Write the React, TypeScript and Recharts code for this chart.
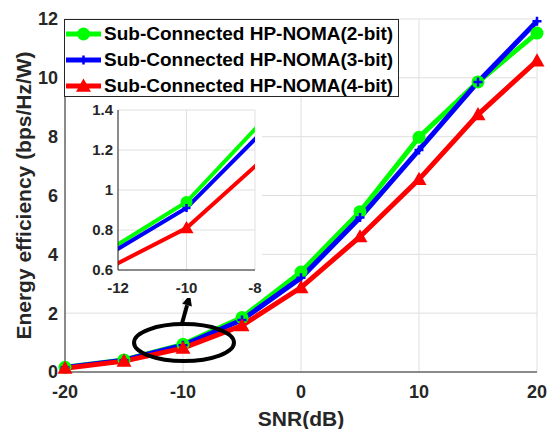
import React from "react";
import { LineChart, Line, XAxis, YAxis, CartesianGrid, Legend, ReferenceDot } from "recharts";

// SNR (dB) on x, energy efficiency (bps/Hz/W) on y
const snr = [-20, -15, -10, -5, 0, 5, 10, 15, 20];
const ee2bit = [0.16, 0.41, 0.94, 1.85, 3.4, 5.45, 7.98, 9.86, 11.52];
const ee3bit = [0.15, 0.4, 0.91, 1.77, 3.2, 5.25, 7.55, 9.86, 11.92];
const ee4bit = [0.13, 0.37, 0.81, 1.58, 2.87, 4.6, 6.55, 8.75, 10.58];

const xTicks = [-20, -10, 0, 10, 20];
const yTicks = [0, 2, 4, 6, 8, 10, 12];
const insetXTicks = [-12, -10, -8];
const insetYTicks = [0.6, 0.8, 1, 1.2, 1.4];

const names = [
  "Sub-Connected HP-NOMA(2-bit)",
  "Sub-Connected HP-NOMA(3-bit)",
  "Sub-Connected HP-NOMA(4-bit)",
];

const data = snr.map((x, i) => ({ snr: x, b2: ee2bit[i], b3: ee3bit[i], b4: ee4bit[i] }));

const GREEN = "#00ff00";
const BLUE = "#0000ff";
const RED = "#ff0000";
const AXIS = "#262626";
const GRID = "#dfdfdf";
const FONT = "'Liberation Sans', Arial, Helvetica, sans-serif";

const Circle = ({ cx, cy, r = 6.5 }: any) => <circle cx={cx} cy={cy} r={r} fill={GREEN} stroke="none" />;
const Plus = ({ cx, cy, s = 4.5 }: any) => (
  <path d={`M${cx - s},${cy}H${cx + s}M${cx},${cy - s}V${cy + s}`} stroke={BLUE} strokeWidth={2.5} fill="none" />
);
const Tri = ({ cx, cy, s = 7.5 }: any) => (
  <path d={`M${cx},${cy - s}L${cx + s},${cy + s * 0.75}L${cx - s},${cy + s * 0.75}Z`} fill={RED} stroke="none" />
);

const markers = [Circle, Plus, Tri];
const colors = [GREEN, BLUE, RED];

function dotFn(M: any, size?: number) {
  return (p: any) =>
    p.cx == null || p.cy == null ? <g key={`e-${p.index}`} /> : <M key={`d-${p.index}`} cx={p.cx} cy={p.cy} {...(size ? { r: size, s: size } : {})} />;
}

function LegendBox() {
  return (
    <div
      style={{
        width: 333,
        height: 76,
        border: `1px solid ${AXIS}`,
        background: "#fff",
        fontFamily: FONT,
      }}
    >
      {names.map((n, i) => {
        const M = markers[i];
        return (
          <div key={n} style={{ height: 26, display: "flex", alignItems: "center", marginTop: i === 0 ? 1 : 0 }}>
            <svg width={38} height={20} style={{ flex: "none" }}>
              <line x1={1} y1={10} x2={36} y2={10} stroke={colors[i]} strokeWidth={5} />
              <M cx={18.5} cy={10} />
            </svg>
            <span style={{ fontSize: 19, fontWeight: "bold", color: "#000", whiteSpace: "nowrap", marginLeft: 1 }}>{n}</span>
          </div>
        );
      })}
    </div>
  );
}

// ellipse + arrow pointing at the zoomed region
const Callout = ({ cx, cy }: any) => {
  if (cx == null || cy == null) return <g />;
  // arrow runs from the top of the ellipse up towards the inset
  const sx = cx - 1;
  const sy = cy - 19;
  const tx = cx + 7;
  const ty = cy - 48;
  const len = Math.hypot(tx - sx, ty - sy);
  const ux = (tx - sx) / len;
  const uy = (ty - sy) / len;
  const hl = 11;
  const hw = 5;
  const bx = tx - ux * hl;
  const by = ty - uy * hl;
  return (
    <g>
      <ellipse cx={cx + 1} cy={cy} rx={50} ry={18.5} fill="none" stroke="#000" strokeWidth={4} />
      <line x1={sx} y1={sy} x2={bx} y2={by} stroke="#000" strokeWidth={4} />
      <path
        d={`M${tx},${ty}L${bx - uy * hw},${by + ux * hw}L${bx + uy * hw},${by - ux * hw}Z`}
        fill="#000"
      />
    </g>
  );
};

const tickStyle = { fill: AXIS, fontSize: 18, fontWeight: "bold" as const };

export default function App() {
  return (
    <div style={{ position: "absolute", left: 0, top: 0, width: 548, height: 429, background: "#fff", fontFamily: FONT }}>
      <LineChart width={548} height={429} data={data} margin={{ top: 19, right: 11, bottom: 0, left: 0 }}>
        <CartesianGrid stroke={GRID} strokeWidth={1} />
        <XAxis
          dataKey="snr"
          type="number"
          domain={[-20, 20]}
          ticks={xTicks}
          height={57}
          tickLine={false}
          tickSize={0}
          tickMargin={13}
          axisLine={{ stroke: AXIS }}
          tick={tickStyle}
          label={{ value: "SNR(dB)", position: "insideBottom", offset: 3, fill: AXIS, fontSize: 21, fontWeight: "bold" }}
        />
        <XAxis
          xAxisId="top"
          orientation="top"
          dataKey="snr"
          type="number"
          domain={[-20, 20]}
          height={0}
          tick={false}
          tickLine={false}
          axisLine={{ stroke: AXIS }}
        />
        <YAxis
          type="number"
          domain={[0, 12]}
          ticks={yTicks}
          width={65}
          tickLine={false}
          tickSize={0}
          tickMargin={7}
          axisLine={{ stroke: AXIS }}
          tick={tickStyle}
          label={{
            value: "Energy efficiency (bps/Hz/W)",
            angle: -90,
            position: "insideLeft",
            offset: 24,
            fill: AXIS,
            fontSize: 21,
            fontWeight: "bold",
            style: { textAnchor: "middle" },
          }}
        />
        <YAxis
          yAxisId="right"
          orientation="right"
          type="number"
          domain={[0, 12]}
          width={0}
          tick={false}
          tickLine={false}
          axisLine={{ stroke: AXIS }}
        />
        <Line dataKey="b2" name={names[0]} stroke={GREEN} strokeWidth={5} dot={dotFn(Circle)} isAnimationActive={false} />
        <Line dataKey="b3" name={names[1]} stroke={BLUE} strokeWidth={5} dot={dotFn(Plus)} isAnimationActive={false} />
        <Line dataKey="b4" name={names[2]} stroke={RED} strokeWidth={5} dot={dotFn(Tri)} isAnimationActive={false} />
        <ReferenceDot x={-10} y={1} shape={(p: any) => <Callout {...p} />} />
        <Legend
          layout="vertical"
          align="center"
          verticalAlign="middle"
          wrapperStyle={{ top: 19, left: 64, width: 335 }}
          content={() => <LegendBox />}
        />
      </LineChart>

      {/* zoomed inset around SNR = -10 dB */}
      <div style={{ position: "absolute", left: 66, top: 98, width: 196, height: 200, background: "#fff" }}>
        <LineChart width={196} height={200} data={data} margin={{ top: 12, right: 7, bottom: 0, left: 0 }}>
          <CartesianGrid stroke={GRID} strokeWidth={1} />
          <XAxis
            dataKey="snr"
            type="number"
            domain={[-12, -8]}
            allowDataOverflow
            ticks={insetXTicks}
            height={28}
            tickLine={false}
            tickSize={0}
            tickMargin={12}
            axisLine={{ stroke: AXIS }}
            tick={{ fill: AXIS, fontSize: 15, fontWeight: "bold" }}
          />
          <XAxis
            xAxisId="top"
            orientation="top"
            dataKey="snr"
            type="number"
            domain={[-12, -8]}
            allowDataOverflow
            height={0}
            tick={false}
            tickLine={false}
            axisLine={{ stroke: AXIS }}
          />
          <YAxis
            type="number"
            domain={[0.6, 1.4]}
            allowDataOverflow
            ticks={insetYTicks}
            width={52}
            tickLine={false}
            tickSize={0}
            tickMargin={5}
            axisLine={{ stroke: AXIS }}
            tick={{ fill: AXIS, fontSize: 15, fontWeight: "bold" }}
          />
          <YAxis
            yAxisId="right"
            orientation="right"
            type="number"
            domain={[0.6, 1.4]}
            allowDataOverflow
            width={0}
            tick={false}
            tickLine={false}
            axisLine={{ stroke: AXIS }}
          />
          <Line dataKey="b2" stroke={GREEN} strokeWidth={4} dot={dotFn(Circle, 6)} isAnimationActive={false} />
          <Line dataKey="b3" stroke={BLUE} strokeWidth={4} dot={dotFn(Plus, 4)} isAnimationActive={false} />
          <Line dataKey="b4" stroke={RED} strokeWidth={4} dot={dotFn(Tri, 7)} isAnimationActive={false} />
        </LineChart>
      </div>
    </div>
  );
}
